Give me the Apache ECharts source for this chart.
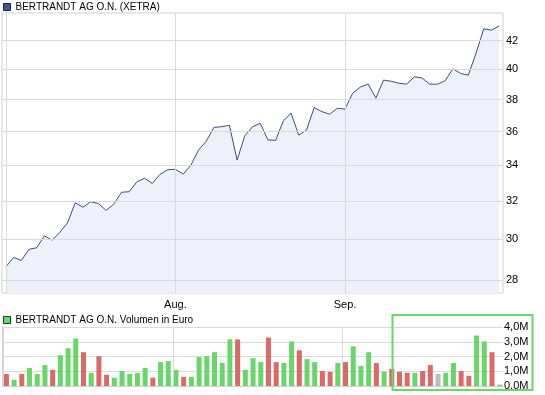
<!DOCTYPE html>
<html><head><meta charset="utf-8">
<script src="https://cdn.jsdelivr.net/npm/echarts@6/dist/echarts.min.js"></script>
<style>html,body{margin:0;padding:0;background:#fff}#c{width:545px;height:395px}</style>
</head><body><div id="c"></div>
<script>
const dates = [
 '07-01','07-02','07-05','07-06','07-07','07-08','07-09','07-12','07-13','07-14','07-15','07-16',
 '07-19','07-20','07-21','07-22','07-23','07-26','07-27','07-28','07-29','07-30',
 '08-02','08-03','08-04','08-05','08-06','08-09','08-10','08-11','08-12','08-13',
 '08-16','08-17','08-18','08-19','08-20','08-23','08-24','08-25','08-26','08-27','08-30','08-31',
 '09-01','09-02','09-03','09-06','09-07','09-08','09-09','09-10','09-13','09-14','09-15','09-16',
 '09-17','09-20','09-21','09-22','09-23','09-24','09-27','09-28','09-29'
];
const prices = [
 28.64,29.10,28.95,29.50,29.58,30.18,29.96,30.36,30.85,31.92,31.68,31.97,
 31.88,31.51,31.84,32.49,32.52,33.07,33.27,32.98,33.49,33.75,
 33.78,33.50,34.01,34.90,35.42,36.26,36.30,36.39,34.31,35.74,
 36.30,36.51,35.50,35.47,36.66,37.14,35.79,36.09,37.49,37.24,37.08,37.45,
 37.40,38.42,38.82,39.02,38.10,39.28,39.20,39.07,39.01,39.50,39.42,39.01,
 39.01,39.24,40.04,39.72,39.61,41.10,42.84,42.74,43.04
];
const volumes = [
 820000,420000,820000,1220000,820000,1420000,1090000,2090000,2560000,3220000,2290000,890000,
 2020000,760000,560000,1020000,820000,890000,1220000,560000,1620000,1690000,
 1090000,620000,620000,1960000,2020000,2290000,1560000,3160000,3160000,1090000,
 1890000,1620000,3290000,1620000,1560000,3020000,2420000,1820000,1620000,1020000,960000,1560000,
 1620000,2690000,1360000,2290000,1560000,960000,1160000,960000,890000,890000,1020000,1420000,
 820000,890000,1560000,1020000,690000,3420000,3020000,2290000,90000
];
// day direction per bar: u = up, d = down, n = unchanged
const dirs = 'duduuuduuu' + 'dudduuuuud' + 'uuuduuuuuu' + 'duuudduudu' +
             'udduduuudu' + 'ddduddnuud' + 'duudu';
const priceTicks = [28,30,32,34,36,38,40,42];
const monthLines = ['07-01','08-02','09-01'];
const monthLabels = {'08-02':'Aug.','09-01':'Sep.'};

const colorMap = {u:'#68d668', d:'#dc6868', n:'#bdbdbd'};
const FONT = 'Liberation Sans, Arial, sans-serif';
const GRIDC = '#dadada';

const chart = echarts.init(document.getElementById('c'), null, {renderer:'canvas'});
chart.setOption({
  animation:false,
  textStyle:{fontFamily:FONT},
  legend:[
    {data:['BERTRANDT AG O.N. (XETRA)'], left:3, top:2, padding:0, icon:'rect', itemWidth:7, itemHeight:7,
     selectedMode:false, itemStyle:{borderColor:'#1a2540', borderWidth:1},
     textStyle:{fontSize:10, color:'#000', fontFamily:FONT}},
    {data:['BERTRANDT AG O.N. Volumen in Euro'], left:3, top:315, padding:0, icon:'rect', itemWidth:7, itemHeight:7,
     selectedMode:false, itemStyle:{borderColor:'#1a4020', borderWidth:1},
     textStyle:{fontSize:10, color:'#000', fontFamily:FONT}}
  ],
  grid:[
    {left:2, right:42, top:13, bottom:102, show:true, borderColor:'#d0d0d0', borderWidth:1},
    {left:2, right:42, top:327, bottom:9}
  ],
  xAxis:[
    {type:'category', gridIndex:0, data:dates, boundaryGap:true,
     axisLine:{show:false}, axisTick:{show:false}, splitLine:{show:false},
     axisLabel:{interval:(i,v)=>monthLabels[v]!==undefined, formatter:v=>monthLabels[v]||'',
       fontSize:11, color:'#000', margin:6}},
    {type:'category', gridIndex:1, data:dates, boundaryGap:true,
     axisLine:{show:true, lineStyle:{color:'#d0d0d0'}}, axisTick:{show:false}, axisLabel:{show:false}, splitLine:{show:false}}
  ],
  yAxis:[
    {type:'log', logBase:10, gridIndex:0, min:27.4, max:44.0, position:'right',
     axisLine:{show:false}, axisTick:{show:false}, axisLabel:{show:false}, splitLine:{show:false}},
    {type:'value', gridIndex:1, min:0, max:4000000, interval:1000000, position:'right',
     axisLine:{show:false}, axisTick:{show:false},
     axisLabel:{fontSize:11, color:'#000', margin:1,
       formatter:v=>(v/1e6).toFixed(1).replace('.',',')+'M'},
     splitLine:{show:true, lineStyle:{color:GRIDC}}},
    {type:'value', gridIndex:1, min:0, max:4000000, position:'left',
     axisLine:{show:true, lineStyle:{color:'#d0d0d0'}}, axisTick:{show:false}, axisLabel:{show:false}, splitLine:{show:false}}
  ],
  series:[
    {type:'line', xAxisIndex:0, yAxisIndex:0, data:[], silent:true, z:1,
     markLine:{symbol:'none', silent:true, animation:false,
       lineStyle:{color:GRIDC, type:'solid', width:1},
       label:{show:true, position:'end', distance:3, fontSize:11, color:'#000', fontFamily:FONT, formatter:p=>String(p.value)},
       data: priceTicks.map(v=>({yAxis:v})).concat(monthLines.map(d=>({xAxis:d, label:{show:false}})))}},
    {name:'BERTRANDT AG O.N. (XETRA)', type:'line', xAxisIndex:0, yAxisIndex:0, data:prices, z:3,
     symbol:'none', itemStyle:{color:'#3f5a8c'}, lineStyle:{color:'#3a4d7e', width:1},
     areaStyle:{color:'#eef1fa', opacity:1, origin:'start'}},
    {type:'bar', xAxisIndex:1, yAxisIndex:1, data:[], silent:true, z:1,
     markLine:{symbol:'none', silent:true, animation:false, label:{show:false},
       lineStyle:{color:GRIDC, type:'solid', width:1},
       data: monthLines.map(d=>({xAxis:d}))}},
    {name:'BERTRANDT AG O.N. Volumen in Euro', type:'bar', xAxisIndex:1, yAxisIndex:1, z:3, barWidth:5,
     itemStyle:{color:'#68d668'},
     data: volumes.map((v,i)=>({value:v, itemStyle:{color:colorMap[dirs[i]]}}))}
  ],
  graphic:[
    {type:'rect', z:100, silent:true, shape:{x:392.5, y:315, width:140, height:75},
     style:{fill:'none', stroke:'#68d668', lineWidth:2}}
  ]
});
</script></body></html>
